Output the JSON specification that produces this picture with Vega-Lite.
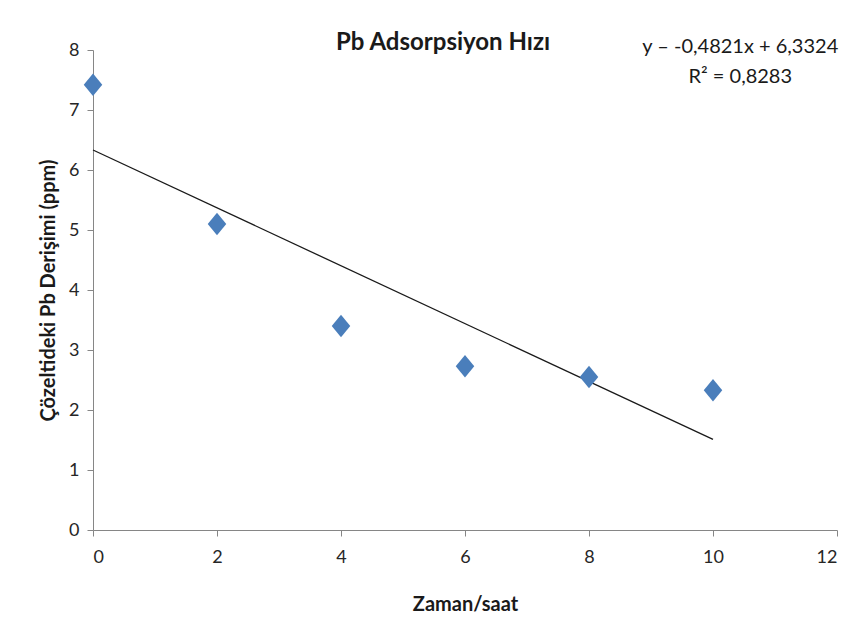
{
  "$schema": "https://vega.github.io/schema/vega-lite/v6.json",
  "autosize": "none",
  "width": 744,
  "height": 480,
  "padding": {"left": 93, "top": 50, "right": 30, "bottom": 98},
  "background": "white",
  "config": {
    "view": {"stroke": null},
    "font": "Lato",
    "axis": {
      "grid": false,
      "domainColor": "#868686",
      "tickColor": "#868686",
      "tickSize": 6,
      "format": "d",
      "labelFont": "Lato",
      "labelFontSize": 18,
      "labelColor": "#262626",
      "titleFont": "Lato",
      "titleFontSize": 20,
      "titleFontWeight": "bold",
      "titleColor": "#1a1a1a"
    }
  },
  "title": {
    "text": "Pb Adsorpsiyon Hızı",
    "font": "Lato",
    "fontSize": 24,
    "fontWeight": "bold",
    "color": "#1a1a1a",
    "frame": "group",
    "anchor": "middle",
    "baseline": "middle",
    "offset": -30,
    "dx": -22
  },
  "data": {
    "values": [
      {"t": 0, "c": 7.42},
      {"t": 2, "c": 5.10},
      {"t": 4, "c": 3.40},
      {"t": 6, "c": 2.73},
      {"t": 8, "c": 2.55},
      {"t": 10, "c": 2.33}
    ]
  },
  "layer": [
    {
      "transform": [{"regression": "c", "on": "t", "extent": [0, 10]}],
      "mark": {"type": "line", "color": "#1a1a1a", "strokeWidth": 1.3, "clip": false},
      "encoding": {
        "x": {"field": "t", "type": "quantitative", "scale": {"domain": [0, 12]},
          "axis": {"title": "Zaman/saat", "values": [0, 2, 4, 6, 8, 10, 12], "labelPadding": 12, "titlePadding": 28}},
        "y": {"field": "c", "type": "quantitative", "scale": {"domain": [0, 8]},
          "axis": {"title": "Çözeltideki Pb Derişimi (ppm)", "values": [0, 1, 2, 3, 4, 5, 6, 7, 8], "labelPadding": 8, "titlePadding": 10}}
      }
    },
    {
      "mark": {"type": "point", "shape": "M0,-1.15L0.95,0L0,1.15L-0.95,0Z", "filled": true, "opacity": 1, "color": "#4a7ebb", "size": 380, "clip": false},
      "encoding": {
        "x": {"field": "t", "type": "quantitative"},
        "y": {"field": "c", "type": "quantitative"}
      }
    },
    {
      "data": {"values": [{}]},
      "mark": {"type": "text", "font": "Lato", "fontSize": 20, "fontWeight": "normal", "color": "#1a1a1a", "align": "center", "baseline": "middle"},
      "encoding": {
        "x": {"datum": 10.44},
        "y": {"datum": 8.05},
        "text": {"value": "y – -0,4821x + 6,3324"}
      }
    },
    {
      "data": {"values": [{}]},
      "mark": {"type": "text", "font": "Lato", "fontSize": 20, "fontWeight": "normal", "color": "#1a1a1a", "align": "center", "baseline": "middle"},
      "encoding": {
        "x": {"datum": 10.44},
        "y": {"datum": 7.55},
        "text": {"value": "R² = 0,8283"}
      }
    }
  ]
}
